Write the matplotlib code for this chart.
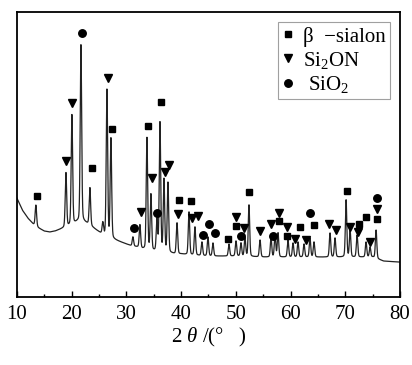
import numpy as np
import matplotlib.pyplot as plt
from matplotlib.ticker import MultipleLocator

plt.rcParams['font.family'] = ['Liberation Serif', 'DejaVu Serif']
plt.rcParams['mathtext.fontset'] = 'custom'
plt.rcParams['mathtext.rm'] = 'Liberation Serif'
plt.rcParams['mathtext.it'] = 'Liberation Serif:italic'

# background (amorphous hump + decay)
bg_2theta = [10, 11, 12, 13, 14, 15, 16, 17, 18, 19, 20, 21, 22, 23, 24, 25, 26, 27, 28, 29,
             30, 31, 32, 33, 34, 35, 36, 37, 38, 39, 40, 42, 45, 50, 55, 60, 65, 70, 75, 76, 77, 80]
bg_int = [99, 87, 79, 73, 69, 66, 65, 66, 68, 70, 72, 75, 76, 73, 69, 65, 61, 59, 57, 55,
          53, 51, 50, 48, 47, 46, 45, 45, 44, 43, 43, 42, 41, 41, 40, 40, 40, 40, 40, 38, 36, 35]

# diffraction peaks: position and apex intensity
peak_2theta = [13.47, 18.96, 20.05, 21.70, 23.34, 25.7, 26.45, 27.18, 31.2, 32.48, 33.76, 34.49,
               35.59, 36.14, 36.87, 37.6, 39.25, 41.44, 42.53, 43.81, 44.91, 45.82, 48.75,
               50.03, 50.94, 51.67, 52.4, 54.42, 56.43, 57.16, 57.71, 59.53, 60.45, 61.36,
               62.46, 63.55, 64.28, 67.21, 68.12, 70.14, 70.87, 72.15, 73.79, 74.52, 75.62]
peak_apex = [92, 124, 182, 252, 109, 74, 207, 158, 60, 72, 159, 102,
             77, 174, 117, 114, 74, 85, 70, 55, 60, 54, 53,
             56, 54, 59, 92, 57, 59, 62, 64, 57, 54, 55,
             53, 59, 55, 64, 59, 97, 67, 62, 55, 50, 67]

# phase markers
sialon_x = [13.66, 23.71, 27.36, 33.94, 36.32, 39.61, 41.8, 48.57, 50.03, 52.4, 57.89, 59.35,
            61.73, 64.29, 70.32, 72.51, 73.79, 75.8]
sialon_y = [101, 129, 168, 171, 195, 97, 96, 58, 71, 105, 76, 61, 70, 72, 106, 73, 80, 78]
si2on_x = [18.96, 20.05, 26.63, 32.66, 34.68, 37.05, 37.78, 39.43, 41.99, 43.08, 50.03, 51.49,
           54.42, 56.43, 57.89, 59.35, 60.81, 62.82, 67.03, 68.31, 70.87, 72.33, 74.52, 75.8]
si2on_y = [136, 194, 219, 85, 119, 125, 132, 83, 79, 81, 80, 69, 66, 73, 84, 70, 58, 57,
           73, 67, 70, 65, 55, 88]
sio2_x = [21.88, 31.39, 35.59, 44.0, 45.09, 46.19, 50.94, 56.79, 63.55, 75.8]
sio2_y = [264, 69, 84, 62, 73, 64, 61, 61, 84, 99]

tt = np.arange(10, 80.001, 0.01)
counts = np.interp(tt, bg_2theta, bg_int)
for c, a in zip(peak_2theta, peak_apex):
    h = a - np.interp(c, bg_2theta, bg_int)
    w = 0.13
    g = np.exp(-0.5 * ((tt - c) / w) ** 2)
    l = 1 / (1 + ((tt - c) / (1.2 * w)) ** 2)
    counts += h * (0.8 * g + 0.2 * l)

fig = plt.figure(figsize=(4.12, 3.65), dpi=100)
ax = fig.add_axes([0.041, 0.186, 0.930, 0.781])
ax.plot(tt, counts, color='#222222', lw=0.9)

ax.plot(sialon_x, sialon_y, 's', color='black', ms=4.8, ls='none', label='β  −sialon')
ax.plot(si2on_x, si2on_y, 'v', color='black', ms=6, ls='none', label='Si$_2$ON')
ax.plot(sio2_x, sio2_y, 'o', color='black', ms=5.4, ls='none', label=' SiO$_2$')

ax.set_xlim(10, 80)
ax.set_ylim(0, 285)
ax.xaxis.set_major_locator(MultipleLocator(10))
ax.xaxis.set_minor_locator(MultipleLocator(5))
ax.tick_params(axis='x', which='major', direction='in', length=4, width=1, labelsize=15, pad=6)
ax.tick_params(axis='x', which='minor', direction='in', length=2.5, width=1)
ax.set_yticks([])
for s in ax.spines.values():
    s.set_linewidth(1.3)
ax.set_xlabel('2 $\\mathit{\\theta}$ /(°   )', fontsize=15, labelpad=1)

leg = ax.legend(loc='upper right', fontsize=15, frameon=True, fancybox=False,
                edgecolor='#888888', handlelength=0.6, handletextpad=0.4,
                borderaxespad=0.5, labelspacing=0.15, borderpad=0.2)
leg.get_frame().set_linewidth(0.8)

fig.savefig('out.png', dpi=100)
